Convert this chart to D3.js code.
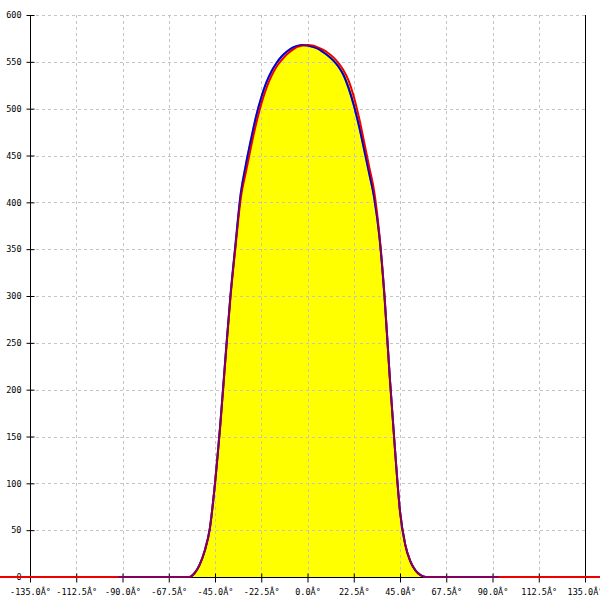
<!DOCTYPE html>
<html><head><meta charset="utf-8">
<script src="https://cdn.jsdelivr.net/npm/d3@7"></script>
<style>body{margin:0;background:#fff}svg{display:block}</style>
</head><body>
<svg id="c" width="600" height="600"></svg>
<script>
const xTicks = [-135, -112.5, -90, -67.5, -45, -22.5, 0, 22.5, 45, 67.5, 90, 112.5, 135];
const yTicks = [0, 50, 100, 150, 200, 250, 300, 350, 400, 450, 500, 550, 600];
const xTickLabels = xTicks.map(v => v.toFixed(1) + "Â°");

const redAngles = [-150, -57.5, -55, -52.5, -50, -47.5, -45, -42.5, -40, -37.5, -35, -32.5, -30, -27.5, -25, -22.5, -20, -17.5, -15, -12.5, -10, -7.5, -5, -2.5, 0, 2.5, 5, 7.5, 10, 12.5, 15, 17.5, 20, 22.5, 25, 27.5, 30, 32.5, 35, 37.5, 40, 42.5, 45, 47.5, 50, 52.5, 55, 57.5, 150];
const redValues = [0, 0, 4, 13, 28, 52, 100, 160, 230, 298, 353, 404, 432, 459, 484, 505, 522, 535, 545, 552, 558, 562.5, 566, 567.5, 568, 567.5, 565.5, 563, 559.5, 555, 549, 541, 530, 513, 491, 465, 438, 411, 365, 300, 214, 138, 70, 35, 17, 7, 2, 0, 0];

const blueAngles = [-92, -57.5, -55, -52.5, -50, -47.5, -45, -42.5, -40, -37.5, -35, -32.5, -30, -27.5, -25, -22.5, -20, -17.5, -15, -12.5, -10, -7.5, -5, -2.5, 0, 2.5, 5, 7.5, 10, 12.5, 15, 17.5, 20, 22.5, 25, 27.5, 30, 32.5, 35, 37.5, 40, 42.5, 45, 47.5, 50, 52.5, 55, 57.5, 93];
const blueValues = [0, 0, 4, 13, 28, 52, 100, 161, 232, 300, 356, 409, 440, 467, 492, 512, 528, 540, 549, 556, 561, 565, 567, 568, 567.5, 566, 564, 560.5, 556.5, 551.5, 545, 536, 522, 504, 482, 457, 431, 404, 363, 298, 214, 138, 70, 35, 17, 7, 2, 0, 0];

const svg = d3.select("#c");
const L = 30, R = 585, T = 15, B = 577;
const x = d3.scaleLinear().domain([-135, 135]).range([L, R]);
const y = d3.scaleLinear().domain([0, 600]).range([B, T]);
const font = "'DejaVu Sans Mono', monospace";

const red = redAngles.map((a, i) => [a, redValues[i]]);
const blue = blueAngles.map((a, i) => [a, blueValues[i]]);

// area fill
svg.append("path").datum(red)
  .attr("fill", "#ffff00")
  .attr("d", d3.area().x(d => x(d[0])).y0(y(0)).y1(d => y(d[1])).curve(d3.curveMonotoneX));

// grid
const g = svg.append("g").attr("stroke", "#c4c4c4").attr("stroke-dasharray", "3,3").attr("shape-rendering", "crispEdges");
xTicks.slice(1, -1).forEach(v => g.append("line").attr("x1", Math.round(x(v)) + 0.5).attr("x2", Math.round(x(v)) + 0.5).attr("y1", T).attr("y2", B));
yTicks.slice(1).forEach(v => g.append("line").attr("x1", L).attr("x2", R).attr("y1", Math.round(y(v)) + 0.5).attr("y2", Math.round(y(v)) + 0.5));

// axes
const yAxis = d3.axisLeft(y).tickValues(yTicks).tickSize(4).tickPadding(5);
const ya = svg.append("g").attr("transform", `translate(${L + 0.5},0)`).call(yAxis);
ya.select(".domain").remove();
ya.selectAll(".tick line").attr("x2", -4).attr("x1", 4);
ya.selectAll("text").attr("font-family", font).attr("font-size", "8.5px").attr("fill", "#000");

const xAxis = d3.axisBottom(x).tickValues(xTicks).tickFormat((d, i) => xTickLabels[i]).tickSize(5).tickPadding(6);
const xa = svg.append("g").attr("transform", `translate(0,${B + 0.5})`).call(xAxis);
xa.select(".domain").remove();
xa.selectAll(".tick line").attr("y1", -4).attr("y2", 5);
xa.selectAll("text").attr("font-family", font).attr("font-size", "8.5px").attr("fill", "#000");

svg.append("line").attr("x1", L + 0.5).attr("x2", L + 0.5).attr("y1", T).attr("y2", B + 5).attr("stroke", "#000");
svg.append("line").attr("x1", R + 0.5).attr("x2", R + 0.5).attr("y1", T).attr("y2", B + 5).attr("stroke", "#000");
svg.append("line").attr("x1", L).attr("x2", R).attr("y1", B + 0.5).attr("y2", B + 0.5).attr("stroke", "#000");

// lines
const line = d3.line().x(d => x(d[0])).y(d => y(d[1])).curve(d3.curveMonotoneX);
svg.append("path").datum(blue).attr("fill", "none").attr("stroke", "#0000cc").attr("stroke-width", 2).attr("d", line);
svg.append("path").datum(red).attr("fill", "none").attr("stroke", "#ee0000").attr("stroke-width", 2).attr("d", line);
svg.append("path").datum(blue).attr("fill", "none").attr("stroke", "#0000cc").attr("stroke-width", 2).attr("stroke-opacity", 0.45).attr("d", line);
</script>
</body></html>
